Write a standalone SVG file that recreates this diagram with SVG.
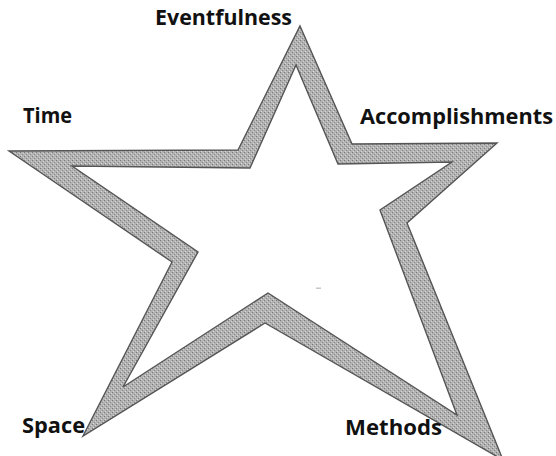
<svg xmlns="http://www.w3.org/2000/svg" width="556" height="456" viewBox="0 0 556 456">
  <style>
    .label { font-family: "Open Sans", "Liberation Sans", sans-serif; font-weight: bold; font-size: 21px; fill: #111; }
    .band { fill: url(#stipple); stroke: #555555; stroke-width: 1.4; stroke-linejoin: miter; fill-rule: evenodd; }
  </style>
  <defs>
    <pattern id="stipple" width="4" height="4" patternUnits="userSpaceOnUse">
      <rect width="4" height="4" fill="#b2b2b2"/>
      <rect x="0" y="0" width="1" height="1" fill="#787878"/>
      <rect x="2" y="2" width="1" height="1" fill="#888888"/>
      <rect x="1" y="3" width="1" height="1" fill="#dadada"/>
      <rect x="3" y="1" width="1" height="1" fill="#d0d0d0"/>
    </pattern>
  </defs>
  <rect width="556" height="456" fill="#ffffff"/>
  <g id="star">
    <path class="band" d="M300,26 L352,144 L497,143 L407,223 L503,460 L265,323 L83,436 L172,262 L9,151 L238,150 Z M296,65 L250,168 L72,166 L198,252 L123,387 L268,293 L457,415 L380,210 L452,162 L338,164 Z"/>
    <rect x="316" y="287.5" width="5" height="1.5" fill="#c8c8c8"/>
  </g>
  <g id="eventfulness"><text class="label" x="155" y="25" textLength="137" lengthAdjust="spacingAndGlyphs">Eventfulness</text></g>
  <g id="time"><text class="label" x="23" y="123" textLength="49" lengthAdjust="spacingAndGlyphs">Time</text></g>
  <g id="accomplishments"><text class="label" x="360" y="124" textLength="193" lengthAdjust="spacingAndGlyphs">Accomplishments</text></g>
  <g id="space"><text class="label" x="22" y="433" textLength="63" lengthAdjust="spacingAndGlyphs">Space</text></g>
  <g id="methods"><text class="label" x="345" y="435" textLength="97" lengthAdjust="spacingAndGlyphs">Methods</text></g>
</svg>
